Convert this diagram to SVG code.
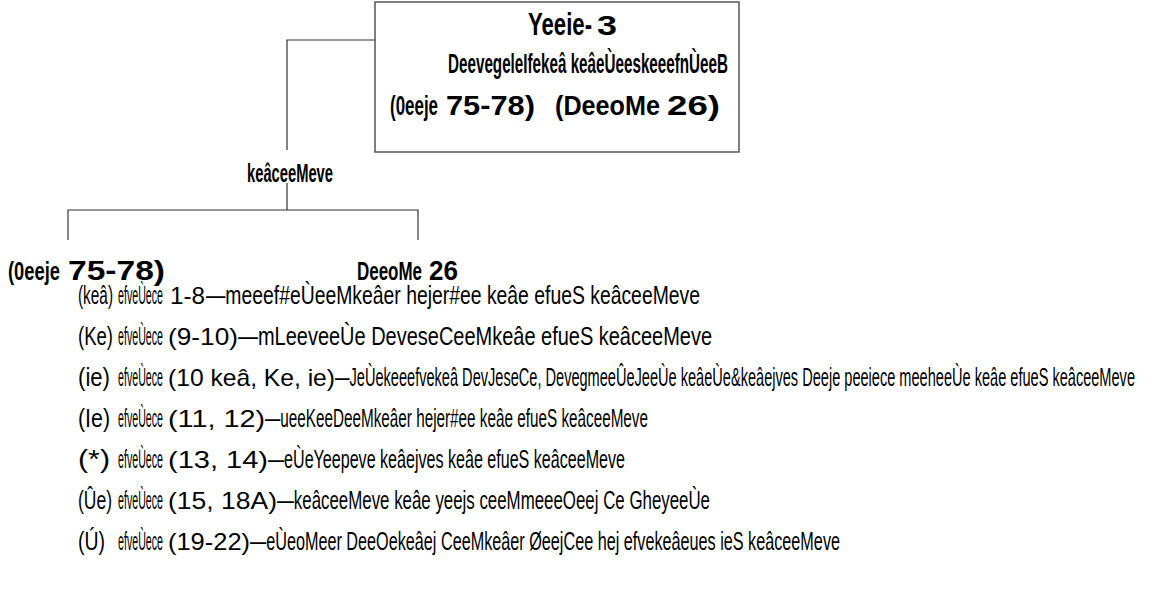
<svg xmlns="http://www.w3.org/2000/svg" width="1160" height="602" viewBox="0 0 1160 602">
<style>
.c{font-family:"Liberation Sans",Arial,sans-serif;fill:#000}
.b{font-weight:bold}
.h1{font-size:31px}
.h2{font-size:28px}
.lb{font-size:26px}
.l{font-size:25px}
.n{font-size:24px}
.nb{font-size:27px;font-weight:bold}
.ln{stroke:#333;stroke-width:1.2;fill:none}
</style>
<rect width="1160" height="602" fill="#fff"/>
<g id="connectors">
<path class="ln" d="M375 40 H287 V150"/>
<path class="ln" d="M287 183 V210"/>
<path class="ln" d="M68 240 V210 H418 V240"/>
</g>
<g id="root">
<rect x="375" y="2" width="364" height="150" fill="#fff" stroke="#555" stroke-width="1.5"/>
<text class="c b h1" x="528" y="35" textLength="64" lengthAdjust="spacingAndGlyphs">Yeeie-</text>
<text class="c nb" x="597" y="35" textLength="20" lengthAdjust="spacingAndGlyphs">3</text>
<text class="c b h2" x="448" y="73" textLength="280" lengthAdjust="spacingAndGlyphs">DeevegeleIfekeâ keâeÙeeskeeefnÙeeB</text>
<text class="c b h2" x="390" y="115" textLength="48" lengthAdjust="spacingAndGlyphs">(0eeje</text>
<text class="c nb" x="446" y="115" textLength="89" lengthAdjust="spacingAndGlyphs">75-78)</text>
<text class="c b h2" x="555" y="115" textLength="105" lengthAdjust="spacingAndGlyphs">(DeeoMe</text>
<text class="c nb" x="667" y="115" textLength="53" lengthAdjust="spacingAndGlyphs">26)</text>
</g>
<g id="mid">
<text class="c b l" x="247" y="182" textLength="86" lengthAdjust="spacingAndGlyphs">keâceeMeve</text>
</g>
<g id="left">
<text class="c b lb" x="8" y="280" textLength="52" lengthAdjust="spacingAndGlyphs">(0eeje</text>
<text class="c nb" x="68" y="280" textLength="97" lengthAdjust="spacingAndGlyphs">75-78)</text>
</g>
<g id="right">
<text class="c b lb" x="357" y="280" textLength="65" lengthAdjust="spacingAndGlyphs">DeeoMe</text>
<text class="c nb" x="429" y="280" textLength="29" lengthAdjust="spacingAndGlyphs">26</text>
</g>
<g id="list">
<text class="c l" x="78" y="304" textLength="35" lengthAdjust="spacingAndGlyphs">(keâ)</text>
<text class="c l" x="118" y="304" textLength="45" lengthAdjust="spacingAndGlyphs">efveÙece</text>
<text class="c n" x="170" y="304" textLength="35" lengthAdjust="spacingAndGlyphs">1-8</text>
<text class="c l" x="206" y="304" textLength="494" lengthAdjust="spacingAndGlyphs">—meeef#eÙeeMkeâer hejer#ee keâe efueS keâceeMeve</text>

<text class="c l" x="78" y="345" textLength="35" lengthAdjust="spacingAndGlyphs">(Ke)</text>
<text class="c l" x="118" y="345" textLength="45" lengthAdjust="spacingAndGlyphs">efveÙece</text>
<text class="c n" x="168" y="345" textLength="70" lengthAdjust="spacingAndGlyphs">(9-10)</text>
<text class="c l" x="238" y="345" textLength="474" lengthAdjust="spacingAndGlyphs">—mLeeveeÙe DeveseCeeMkeâe efueS keâceeMeve</text>

<text class="c l" x="78" y="386" textLength="32" lengthAdjust="spacingAndGlyphs">(ie)</text>
<text class="c l" x="118" y="386" textLength="45" lengthAdjust="spacingAndGlyphs">efveÙece</text>
<text class="c n" x="168" y="386" textLength="167" lengthAdjust="spacingAndGlyphs">(10 keâ, Ke, ie)</text>
<text class="c l" x="335" y="386" textLength="800" lengthAdjust="spacingAndGlyphs">—JeÙekeeefvekeâ DevJeseCe, DevegmeeÛeJeeÙe keâeÙe&amp;keâejves Deeje peeiece meeheeÙe keâe efueS keâceeMeve</text>

<text class="c l" x="78" y="427" textLength="32" lengthAdjust="spacingAndGlyphs">(Ie)</text>
<text class="c l" x="118" y="427" textLength="45" lengthAdjust="spacingAndGlyphs">efveÙece</text>
<text class="c n" x="168" y="427" textLength="97" lengthAdjust="spacingAndGlyphs">(11, 12)</text>
<text class="c l" x="265" y="427" textLength="383" lengthAdjust="spacingAndGlyphs">—ueeKeeDeeMkeâer hejer#ee keâe efueS keâceeMeve</text>

<text class="c l" x="78" y="468" textLength="32" lengthAdjust="spacingAndGlyphs">(*)</text>
<text class="c l" x="118" y="468" textLength="45" lengthAdjust="spacingAndGlyphs">efveÙece</text>
<text class="c n" x="168" y="468" textLength="100" lengthAdjust="spacingAndGlyphs">(13, 14)</text>
<text class="c l" x="268" y="468" textLength="357" lengthAdjust="spacingAndGlyphs">—eÙeYeepeve keâejves keâe efueS keâceeMeve</text>

<text class="c l" x="78" y="509" textLength="34" lengthAdjust="spacingAndGlyphs">(Ûe)</text>
<text class="c l" x="118" y="509" textLength="45" lengthAdjust="spacingAndGlyphs">efveÙece</text>
<text class="c n" x="168" y="509" textLength="109" lengthAdjust="spacingAndGlyphs">(15, 18A)</text>
<text class="c l" x="277" y="509" textLength="433" lengthAdjust="spacingAndGlyphs">—keâceeMeve keâe yeejs ceeMmeeeOeej Ce GheyeeÙe</text>

<text class="c l" x="78" y="550" textLength="27" lengthAdjust="spacingAndGlyphs">(Ú)</text>
<text class="c l" x="118" y="550" textLength="45" lengthAdjust="spacingAndGlyphs">efveÙece</text>
<text class="c n" x="168" y="550" textLength="82" lengthAdjust="spacingAndGlyphs">(19-22)</text>
<text class="c l" x="250" y="550" textLength="590" lengthAdjust="spacingAndGlyphs">—eÙeoMeer DeeOekeâej CeeMkeâer ØeejCee hej efvekeâeues ieS keâceeMeve</text>
</g>
</svg>
